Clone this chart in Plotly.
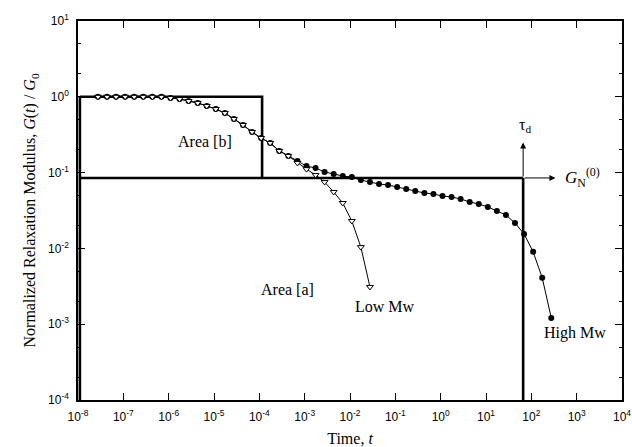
import math
import plotly.graph_objects as go

# ---- data ----
log_time = [-7.56, -7.36, -7.16, -6.96, -6.76, -6.56, -6.36, -6.16, -5.96, -5.76,
            -5.56, -5.36, -5.16, -4.96, -4.76, -4.56, -4.36, -4.16, -3.96, -3.76,
            -3.56, -3.36, -3.16, -2.96, -2.76, -2.56, -2.36, -2.16, -1.96, -1.76,
            -1.56, -1.36, -1.16, -0.96, -0.76, -0.56, -0.36, -0.16, 0.04, 0.24,
            0.44, 0.64, 0.84, 1.04, 1.24, 1.44, 1.64, 1.84, 2.04, 2.24, 2.44]
time = [10 ** v for v in log_time]

g_common = [1.0, 1.0, 1.0, 1.0, 1.0, 1.0, 1.0, 1.0, 0.965, 0.935,
            0.88, 0.83, 0.757, 0.69, 0.61, 0.51, 0.425, 0.343, 0.286, 0.246,
            0.193, 0.166]
g_low_tail = [0.134, 0.111, 0.093, 0.075, 0.0555, 0.0397, 0.023, 0.0104, 0.0031]
g_high_tail = [0.142, 0.122, 0.115, 0.102, 0.096, 0.090, 0.0875, 0.080, 0.075, 0.0708,
               0.0686, 0.0645, 0.0608, 0.0572, 0.0538, 0.0522, 0.0491, 0.0477, 0.0449,
               0.041, 0.0385, 0.0352, 0.0311, 0.0276, 0.0216, 0.0155, 0.009, 0.0041,
               0.00121]
g_low = g_common + g_low_tail
g_high = g_common + g_high_tail

G_N0 = 0.085          # plateau modulus level
tau_e = 1.15e-4       # end of area [b]
tau_d = 66.0          # terminal time
t_left = 1.1e-8
g_bottom = 1e-4
arrow_t_end = 340.0
arrow_g_end = 0.25

x_tickvals = [1e-8, 1e-7, 1e-6, 1e-5, 1e-4, 1e-3, 1e-2, 1e-1, 1, 1e1, 1e2, 1e3, 1e4]
x_ticktext = ["10<sup>-8</sup>", "10<sup>-7</sup>", "10<sup>-6</sup>", "10<sup>-5</sup>",
              "10<sup>-4</sup>", "10<sup>-3</sup>", "10<sup>-2</sup>", "10<sup>-1</sup>",
              "10<sup>0</sup>", "10<sup>1</sup>", "10<sup>2</sup>", "10<sup>3</sup>",
              "10<sup>4</sup>"]
y_tickvals = [1e-4, 1e-3, 1e-2, 1e-1, 1, 10]
y_ticktext = ["10<sup>-4</sup>", "10<sup>-3</sup>", "10<sup>-2</sup>", "10<sup>-1</sup>",
              "10<sup>0</sup>", "10<sup>1</sup>"]

fig = go.Figure()

thick = dict(color="black", width=2.6)
# Area [b] rectangle
fig.add_trace(go.Scatter(x=[t_left, tau_e, tau_e], y=[1.0, 1.0, G_N0],
                         mode="lines", line=thick, showlegend=False, hoverinfo="skip"))
fig.add_trace(go.Scatter(x=[t_left, t_left], y=[1.0, g_bottom],
                         mode="lines", line=thick, showlegend=False, hoverinfo="skip"))
# G_N0 plateau line and tau_d vertical line
fig.add_trace(go.Scatter(x=[t_left, tau_d], y=[G_N0, G_N0],
                         mode="lines", line=thick, showlegend=False, hoverinfo="skip"))
fig.add_trace(go.Scatter(x=[tau_d, tau_d], y=[g_bottom, G_N0],
                         mode="lines", line=thick, showlegend=False, hoverinfo="skip"))

# High Mw (filled circles)
fig.add_trace(go.Scatter(x=time, y=g_high, mode="lines+markers", name="High Mw",
                         line=dict(color="black", width=1),
                         marker=dict(symbol="circle", size=6, color="black"),
                         showlegend=False))
# Low Mw (open down triangles)
fig.add_trace(go.Scatter(x=time[:len(g_low)], y=g_low, mode="lines+markers", name="Low Mw",
                         line=dict(color="black", width=1),
                         marker=dict(symbol="triangle-down", size=6, color="white",
                                     line=dict(color="black", width=1)),
                         showlegend=False))

L = math.log10
serif = "Liberation Serif, Times New Roman, serif"
ann = []
# arrows
ann.append(dict(x=L(arrow_t_end), y=L(G_N0), ax=L(tau_d), ay=L(G_N0), xref="x", yref="y",
                axref="x", ayref="y", showarrow=True, arrowhead=2, arrowsize=1.2,
                arrowwidth=1, arrowcolor="black", text=""))
ann.append(dict(x=L(tau_d), y=L(arrow_g_end), ax=L(tau_d), ay=L(G_N0), xref="x", yref="y",
                axref="x", ayref="y", showarrow=True, arrowhead=2, arrowsize=1.2,
                arrowwidth=1, arrowcolor="black", text=""))
labels = [
    ("Area [b]", -5.2, -0.596),
    ("Area [a]", -3.37, -2.536),
    ("Low Mw", -1.23, -2.76),
    ("High Mw", 2.96, -3.116),
]
for txt, lx, ly in labels:
    ann.append(dict(x=lx, y=ly, xref="x", yref="y", text=txt, showarrow=False,
                    font=dict(family=serif, size=16, color="black")))
ann.append(dict(x=L(tau_d) + 0.03, y=-0.53, xref="x", yref="y", text="τ<sub>d</sub>",
                showarrow=False, yanchor="bottom",
                font=dict(family=serif, size=16, color="black")))
ann.append(dict(x=2.7, y=L(G_N0), xref="x", yref="y", xanchor="left",
                text="<i>G</i><sub>N</sub><sup>(0)</sup>", showarrow=False,
                font=dict(family=serif, size=17, color="black")))

axis_common = dict(
    type="log", showline=True, linecolor="black", linewidth=1.5, mirror="allticks",
    ticks="inside", ticklen=7, tickwidth=1, tickcolor="black", showgrid=False,
    zeroline=False, automargin=False, ticklabelstandoff=5,
    minor=dict(ticks="inside", ticklen=3.5, tickwidth=1, tickcolor="black", showgrid=False),
    tickfont=dict(family="Liberation Sans, Arial, sans-serif", size=12, color="black"),
)

fig.update_layout(
    width=632, height=447,
    margin=dict(l=78, r=10, t=21, b=47),
    paper_bgcolor="white", plot_bgcolor="white",
    annotations=ann,
    xaxis=dict(axis_common, range=[-8, 4], tickvals=x_tickvals, ticktext=x_ticktext,
               title=dict(text="Time, <i>t</i>", standoff=10,
                          font=dict(family=serif, size=16, color="black"))),
    yaxis=dict(axis_common, range=[-4, 1], tickvals=y_tickvals, ticktext=y_ticktext,
               title=dict(text="Normalized Relaxation Modulus, <i>G</i>(<i>t</i>) / <i>G</i><sub>0</sub>",
                          standoff=8, font=dict(family=serif, size=16, color="black"))),
)

fig.write_html("out.html", config={"displayModeBar": False},
               post_script="document.body.style.margin='0px';document.body.style.overflow='hidden';")
